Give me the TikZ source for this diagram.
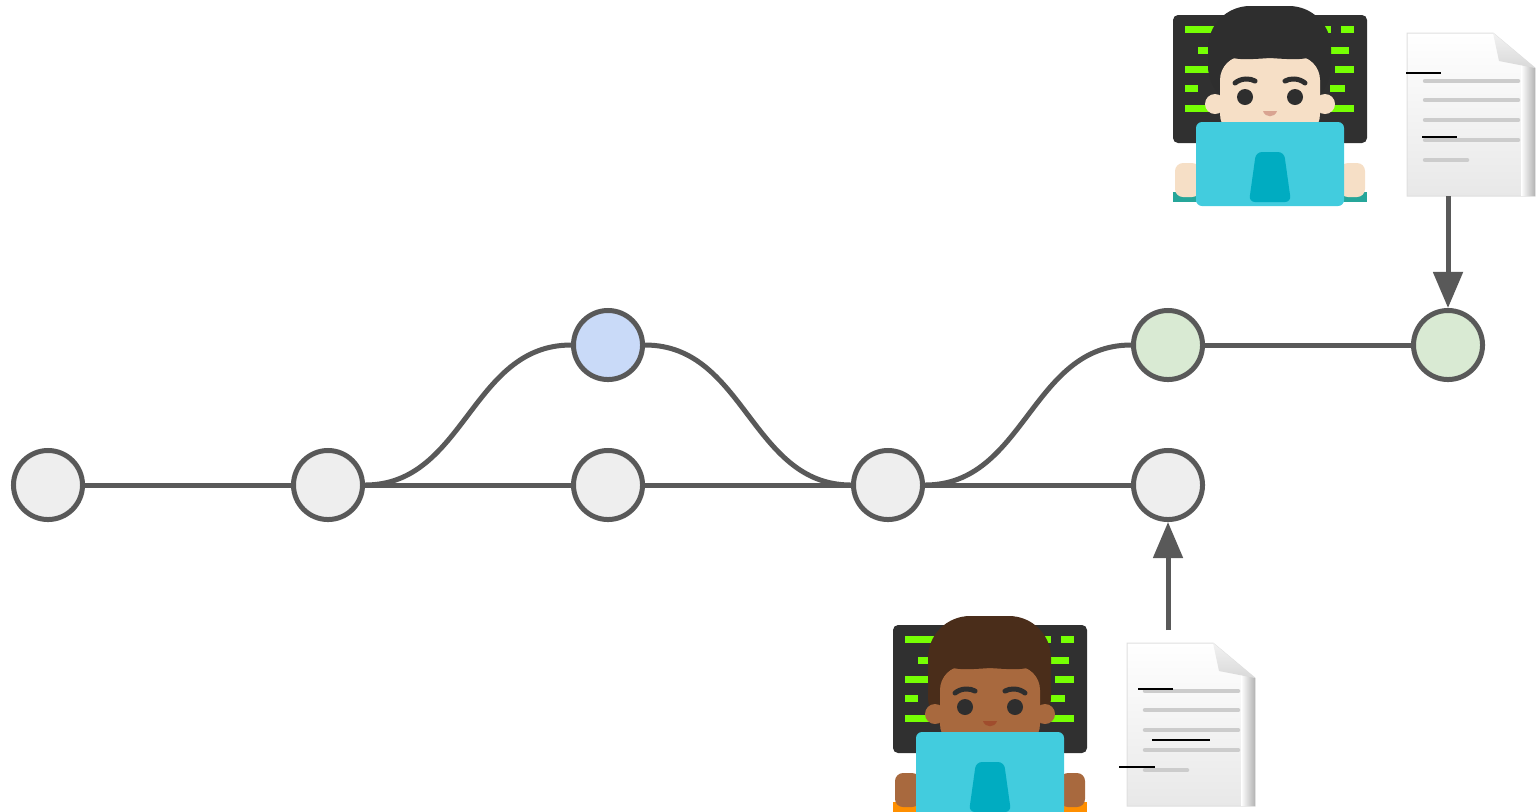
\documentclass[tikz,border=0pt]{standalone}
\usepackage{xcolor}
\usepackage{tikz}
\usetikzlibrary{positioning,arrows.meta}

\definecolor{edge}{HTML}{595959}
\definecolor{plain}{HTML}{EEEEEE}
\definecolor{feat}{HTML}{C9DAF8}
\definecolor{fresh}{HTML}{D9EAD3}
\definecolor{screen}{HTML}{303030}
\definecolor{code}{HTML}{76FF03}
\definecolor{laptop}{HTML}{42CCDE}
\definecolor{logo}{HTML}{00ACC1}
\definecolor{lightskin}{HTML}{F6DFC6}
\definecolor{darkskin}{HTML}{A8693E}
\definecolor{blackhair}{HTML}{2E2E2E}
\definecolor{brownhair}{HTML}{4A2D1A}
\definecolor{tealshirt}{HTML}{26A69A}
\definecolor{orangeshirt}{HTML}{FF8F00}

% someone typing at a laptop: #1 shift, #2 skin, #3 hair, #4 shirt, #5 hair depth
\newcommand{\coder}[5]{%
  \begin{scope}[shift={#1}]
    \fill[screen, rounded corners=0.05cm] (-97,15) rectangle (97,143);
    \foreach \lo/\hi/\row in {-85/-48/29, -72/-58/50, -85/-60/69, -85/-72/88, -85/-58/108,
                              50/61/29, 71/84/29, 57/79/50, 65/84/69, 60/75/88, 55/84/108}
      \fill[code] (\lo,\row-3.5) rectangle (\hi,\row+3.5);
    \fill[#3, rounded corners=0.42cm] (-62,6) rectangle (61,#5);
    \fill[#2] (-55,104) circle (10) (55,104) circle (10);
    \fill[#2, rounded corners=0.24cm] (-50,56) rectangle (50,138);
    \fill[#3] (-52,40) .. controls (-52,62) and (-30,60) .. (0,58)
                      .. controls (30,60) and (52,62) .. (52,40) -- cycle;
    \fill[#3, rounded corners=0.2cm] (-52,20) rectangle (52,48);
    \fill[blackhair] (-25,97) circle (8) (25,97) circle (8);
    \draw[blackhair, line width=0.05cm, line cap=round]
      (-35,83) .. controls (-29,78) and (-20,78) .. (-15,81)
      (15,81) .. controls (20,78) and (29,78) .. (35,83);
    \fill[#2!70!red!80!black, opacity=0.6] (-7,111) .. controls (-5,118) and (5,118) .. (7,111) -- cycle;
    \fill[#4] (-97,192) rectangle (97,202);
    \fill[#2, rounded corners=0.08cm] (-95,163) rectangle (-70,197) (70,163) rectangle (95,197);
    \fill[laptop, rounded corners=0.06cm] (-74,122) rectangle (74,206);
    \fill[laptop] (-74,190) rectangle (74,202);
    \fill[logo, rounded corners=0.06cm] (-21,202) -- (-14,152) -- (14,152) -- (21,202) -- cycle;
  \end{scope}}

% sheet of text, #1 is its top left corner
\newcommand{\sheet}[1]{%
  \begin{scope}[shift={#1}]
    \shade[top color=white, bottom color=gray!18, draw=gray!25, line width=0.01cm]
      (0,0) -- (86,0) -- (128,35) -- (128,163) -- (0,163) -- cycle;
    \shade[left color=white, right color=gray!60] (114,30) -- (128,35) -- (128,163) -- (114,163) -- cycle;
    \shade[top color=gray!10, bottom color=gray!30] (86,0) -- (92,28) -- (128,35) -- cycle;
    \foreach \row in {48,67,87,107}
      \draw[gray!40, line width=0.045cm, line cap=round] (18,\row) -- (111,\row);
    \draw[gray!40, line width=0.045cm, line cap=round] (18,127) -- (60,127);
  \end{scope}}

\begin{document}
\begin{tikzpicture}[
  x=0.01cm, y=-0.01cm,
  commit/.style={circle, draw=edge, line width=0.05cm, fill=plain, minimum size=0.69cm, inner sep=0pt},
  link/.style={draw=edge, line width=0.05cm},
  push/.style={link, -{Triangle[length=0.36cm, width=0.29cm]}},
  tick/.style={black, line width=0.018cm}
]
  \useasboundingbox (0,0) rectangle (1537,811);

  \node[commit] (c1) at (48,485) {};
  \node[commit] (c2) at (328,485) {};
  \node[commit] (c3) at (608,485) {};
  \node[commit] (c4) at (888,485) {};
  \node[commit] (c5) at (1168,485) {};
  \node[commit, fill=feat] (f1) at (608,345) {};
  \node[commit, fill=fresh] (n1) at (1168,345) {};
  \node[commit, fill=fresh] (n2) at (1448,345) {};

  \draw[link] (c1) -- (c2) -- (c3) -- (c4) -- (c5);
  \draw[link] (c2.east) .. controls +(100,0) and +(-100,0) .. (f1.west);
  \draw[link] (f1.east) .. controls +(100,0) and +(-100,0) .. (c4.west);
  \draw[link] (c4.east) .. controls +(100,0) and +(-100,0) .. (n1.west);
  \draw[link] (n1) -- (n2);

  \coder{(1270,0)}{lightskin}{blackhair}{tealshirt}{108}
  \coder{(990,610)}{darkskin}{brownhair}{orangeshirt}{128}
  \sheet{(1407,33)}
  \sheet{(1127,643)}

  \draw[tick] (1406,73) -- (1441,73);
  \draw[tick] (1422,137) -- (1457,137);
  \draw[tick] (1138,689) -- (1173,689);
  \draw[tick] (1152,740) -- (1210,740);
  \draw[tick] (1119,767) -- (1155,767);

  \coordinate (up) at (1448,196);
  \coordinate (down) at (1168,630);
  \draw[push] (up) -- (n2);
  \draw[push] (down) -- (c5);
\end{tikzpicture}
\end{document}
